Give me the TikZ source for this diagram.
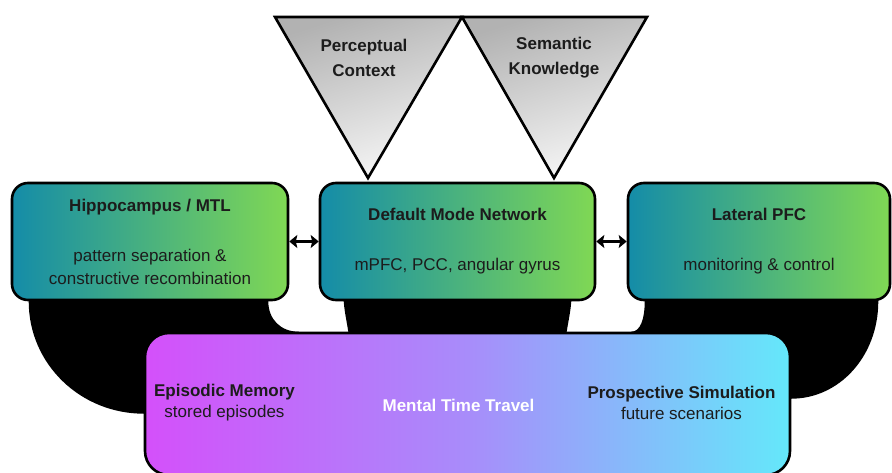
\documentclass[tikz,border=0pt]{standalone}
\usepackage{fontspec}
\setmainfont{Liberation Sans}
\usetikzlibrary{arrows.meta,calc}
\pgfdeclarelayer{back}
\pgfsetlayers{back,main}

\definecolor{tealA}{RGB}{20,140,168}
\definecolor{greenA}{RGB}{128,216,84}
\definecolor{magA}{RGB}{212,80,250}
\definecolor{lavA}{RGB}{168,140,250}
\definecolor{cyanA}{RGB}{100,232,250}
\definecolor{ink}{RGB}{28,28,28}

\tikzset{
  region/.style={draw=black, line width=2.6pt, rounded corners=16pt,
    left color=tealA, right color=greenA, minimum height=117pt,
    text=ink, align=center, inner sep=0pt,
    font=\fontsize{17}{23}\selectfont},
  travel/.style={draw=black, line width=2.6pt, rounded corners=24pt,
    left color=magA, right color=cyanA, middle color=lavA,
    minimum width=645pt, minimum height=142pt, inner sep=0pt},
  cue/.style={draw=black, line width=2.6pt, line join=miter,
    top color=black!30, bottom color=black!3, shading angle=18},
  cuetext/.style={align=center, text=ink, font=\bfseries\fontsize{17}{25}\selectfont},
  pole/.style={align=center, text=ink, font=\fontsize{17}{21}\selectfont},
  band/.style={fill=black},
  link/.style={line width=3.6pt,
    {Stealth[length=8pt,width=13pt,inset=1.5pt]}-{Stealth[length=8pt,width=13pt,inset=1.5pt]}}
}

\begin{document}
\begin{tikzpicture}[x=1pt,y=-1pt]
\useasboundingbox (0,0) rectangle (892,473);

% cue triangles feeding the default mode network
\path[cue] (275,17) -- (462,17) -- (368,178) -- cycle;
\path[cue] (462,17) -- (647,17) -- (554,178) -- cycle;
\node[cuetext] (percept) at (364,57.5) {Perceptual\\Context};
\node[cuetext] (semantic) at (554,57.5) {Semantic\\Knowledge};

% network regions
\node[region, minimum width=276pt] (hip) at (150,241.5)
  {\textbf{Hippocampus / MTL}\\[27pt]pattern separation \&\\constructive recombination};
\node[region, minimum width=275pt] (dmn) at (457.5,241.5)
  {\textbf{Default Mode Network}\\[27pt]mPFC, PCC, angular gyrus};
\node[region, minimum width=262pt] (pfc) at (759,241.5)
  {\textbf{Lateral PFC}\\[27pt]monitoring \& control};

% mental time travel
\node[travel] (mtt) at (467.5,404) {};
\node[pole] (past) at ($(mtt.center)+(-243,-1)$)
  {\textbf{Episodic Memory}\\stored episodes};
\node[text=white, font=\bfseries\fontsize{17}{21}\selectfont] (mttlabel)
  at ($(mtt.center)+(-9,1)$) {Mental Time Travel};
\node[pole] (future) at ($(mtt.center)+(214,-1)$)
  {\textbf{Prospective Simulation}\\future scenarios};

% bidirectional links
\draw[link] (hip) -- (dmn);
\draw[link] (dmn) -- (pfc);

% heavy bands joining each region to mental time travel
\begin{pgfonlayer}{back}
\fill[band] ($(hip.south west)+(18,-6)$) -- ($(hip.south east)+(-21,-6)$)
  -- ($(hip.south east)+(-21,0)$)
  .. controls +(0,18) and +(-18,0) .. ($(mtt.north west)+(155,0)$)
  -- ($(mtt.north west)+(160,10)$) -- ($(mtt.north west)+(6,88)$)
  -- ($(mtt.north west)+(0,82)$)
  .. controls +(-63,0) and +(0,63) .. ($(hip.south west)+(18,0)$) -- cycle;
\fill[band] ($(dmn.south west)+(25,-6)$) -- ($(dmn.south east)+(-25,-6)$)
  -- ($(dmn.south east)+(-25,0)$)
  .. controls +(-1,14) and +(1,-14) .. ($(dmn.south east)+(-31,42)$)
  -- ($(dmn.south west)+(31,42)$)
  .. controls +(-1,-14) and +(1,14) .. ($(dmn.south west)+(25,0)$) -- cycle;
\fill[band] ($(pfc.south west)+(18,-6)$) -- ($(pfc.south east)+(-13,-6)$)
  -- ($(pfc.south east)+(-13,0)$)
  .. controls +(0,55) and +(48,0) .. ($(mtt.north east)+(0,67)$)
  -- ($(mtt.north east)+(-6,76)$) -- ($(mtt.north east)+(-165,8)$)
  -- ($(mtt.north east)+(-160,0)$)
  .. controls +(9,0) and +(0,18) .. ($(pfc.south west)+(18,0)$) -- cycle;
\end{pgfonlayer}
\end{tikzpicture}
\end{document}
